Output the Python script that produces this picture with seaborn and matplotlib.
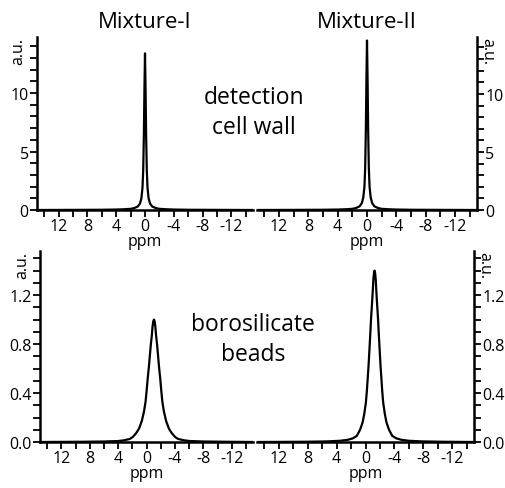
import numpy as np
import pandas as pd
import matplotlib
matplotlib.use("Agg")
import matplotlib.pyplot as plt
import seaborn as sns

# chemical shift grid (ppm), sharp peaks (top row)
ppm_sharp = [15, 10, 6, 4, 3, 2, 1.5, 1.0, 0.7, 0.5, 0.35, 0.25, 0.15, 0.08, 0,
             -0.08, -0.15, -0.25, -0.35, -0.5, -0.7, -1.0, -1.5, -2, -3, -4, -6, -10, -15]
mix1_cell = [0, 0.01, 0.02, 0.04, 0.06, 0.1, 0.16, 0.3, 0.55, 1.0, 1.9, 3.4, 6.6, 10.3, 13.4,
             10.3, 6.6, 3.4, 1.9, 1.0, 0.55, 0.3, 0.16, 0.1, 0.06, 0.04, 0.02, 0.01, 0]
mix2_cell = [0, 0.01, 0.02, 0.04, 0.06, 0.1, 0.17, 0.32, 0.6, 1.1, 2.0, 3.6, 7.2, 11.2, 14.6,
             11.2, 7.2, 3.6, 2.0, 1.1, 0.6, 0.32, 0.17, 0.1, 0.06, 0.04, 0.02, 0.01, 0]

# broad peaks (bottom row)
ppm_beads1 = [15, 8.95, 5.95, 3.95, 3.15, 2.35, 1.95, 1.45, 1.05, 0.67, 0.35, 0.13, -0.02,
              -0.17, -0.33, -0.48, -0.6, -0.75, -0.85, -0.95, -1.05, -1.15, -1.25, -1.35,
              -1.5, -1.62, -1.77, -1.93, -2.08, -2.23, -2.45, -2.77, -3.15, -3.55, -4.05,
              -4.45, -5.25, -6.05, -8.05, -11.05, -15]
mix1_beads = [0, 0.002, 0.004, 0.008, 0.014, 0.025, 0.04, 0.073, 0.11, 0.17, 0.25, 0.33, 0.42,
              0.52, 0.61, 0.71, 0.79, 0.87, 0.94, 0.985, 1.0, 0.985, 0.94, 0.87,
              0.79, 0.71, 0.61, 0.52, 0.42, 0.33, 0.25, 0.17, 0.11, 0.073, 0.04,
              0.025, 0.014, 0.008, 0.004, 0.002, 0]
ppm_beads2 = [15, 8.25, 5.25, 3.5, 2.45, 1.75, 1.2, 0.75, 0.4, 0.17, -0.05, -0.18, -0.3,
              -0.43, -0.55, -0.66, -0.77, -0.89, -1.0, -1.09, -1.17, -1.25, -1.33, -1.41,
              -1.5, -1.61, -1.73, -1.84, -1.95, -2.07, -2.2, -2.32, -2.45, -2.67, -2.9,
              -3.25, -3.7, -4.25, -4.95, -6.0, -7.75, -10.75, -15]
mix2_beads = [0, 0.002, 0.005, 0.01, 0.018, 0.03, 0.05, 0.1, 0.16, 0.23, 0.32, 0.41, 0.515,
              0.63, 0.76, 0.88, 1.01, 1.12, 1.23, 1.33, 1.38, 1.40, 1.38, 1.33,
              1.23, 1.12, 1.01, 0.88, 0.76, 0.63, 0.515, 0.41, 0.32, 0.23, 0.16,
              0.1, 0.05, 0.03, 0.018, 0.01, 0.005, 0.002, 0]

x_ticks = [14, 12, 10, 8, 6, 4, 2, 0, -2, -4, -6, -8, -10, -12, -14]
x_labels = ["", "12", "", "8", "", "4", "", "0", "", "-4", "", "-8", "", "-12", ""]
y_ticks_top = list(range(0, 15))
y_labels_top = ["0", "", "", "", "", "5", "", "", "", "", "10", "", "", "", ""]
y_ticks_bot = [0.0, 0.1, 0.2, 0.3, 0.4, 0.5, 0.6, 0.7, 0.8, 0.9, 1.0, 1.1, 1.2, 1.3, 1.4, 1.5]
y_labels_bot = ["0.0", "", "", "", "0.4", "", "", "", "0.8", "", "", "", "1.2", "", "", ""]

titles = ["Mixture-I", "Mixture-II"]

sns.set_style("ticks")
plt.rcParams['font.family'] = ['Open Sans', 'DejaVu Sans']
plt.rcParams['text.color'] = 'black'
plt.rcParams['axes.labelcolor'] = 'black'
plt.rcParams['xtick.color'] = 'black'
plt.rcParams['ytick.color'] = 'black'

W, H = 505, 489
fig = plt.figure(figsize=(W / 100, H / 100), dpi=100)
fig.patch.set_facecolor("white")


def px_axes(x0, x1, ytop, ybot):
    return fig.add_axes([x0 / W, 1 - ybot / H, (x1 - x0) / W, (ybot - ytop) / H])


panels = [
    (px_axes(37, 253, 38, 211), ppm_sharp, mix1_cell, 14.8, y_ticks_top, y_labels_top, "left"),
    (px_axes(257, 477, 38, 211), ppm_sharp, mix2_cell, 14.9, y_ticks_top, y_labels_top, "right"),
    (px_axes(40, 253, 252, 443), ppm_beads1, mix1_beads, 1.56, y_ticks_bot, y_labels_bot, "left"),
    (px_axes(257, 474, 252, 443), ppm_beads2, mix2_beads, 1.56, y_ticks_bot, y_labels_bot, "right"),
]

for ax, xs, ys, ytop, yt, yl, side in panels:
    df = pd.DataFrame({"ppm": xs, "au": ys})
    sns.lineplot(data=df, x="ppm", y="au", ax=ax, color="black", lw=1.6, sort=False)
    ax.set_xlim(15, -15)
    ax.set_ylim(0, ytop)
    ax.set_facecolor("white")
    ax.set_xticks(x_ticks)
    ax.set_xticklabels(x_labels)
    ax.set_yticks(yt)
    ax.set_yticklabels(yl)
    ax.set_xlabel("ppm", fontsize=11.5, labelpad=-1)
    ax.set_ylabel("")
    ax.tick_params(axis="both", direction="out", length=5, width=1.3,
                   labelsize=11.5, pad=1, color="black", labelcolor="black")
    for s in ax.spines.values():
        s.set_linewidth(1.8)
        s.set_color("black")
    ax.spines["top"].set_visible(False)
    if side == "left":
        ax.spines["right"].set_visible(False)
        ax.text(-0.085, 1.0, "a.u.", transform=ax.transAxes, rotation=90,
                ha="center", va="top", fontsize=11.5)
    else:
        ax.spines["left"].set_visible(False)
        ax.yaxis.tick_right()
        ax.yaxis.set_label_position("right")
        ax.text(1.045, 1.0, "a.u.", transform=ax.transAxes, rotation=270,
                ha="center", va="top", fontsize=11.5)

fig.text(145 / W, 1 - 23 / H, titles[0], ha="center", va="center", fontsize=16)
fig.text(367 / W, 1 - 23 / H, titles[1], ha="center", va="center", fontsize=16)
fig.text(254 / W, 1 - 113 / H, "detection\ncell wall", ha="center", va="center",
         fontsize=16.5, linespacing=1.35)
fig.text(253 / W, 1 - 340 / H, "borosilicate\nbeads", ha="center", va="center",
         fontsize=16.5, linespacing=1.35)

fig.savefig("out.png", dpi=100, facecolor="white")
